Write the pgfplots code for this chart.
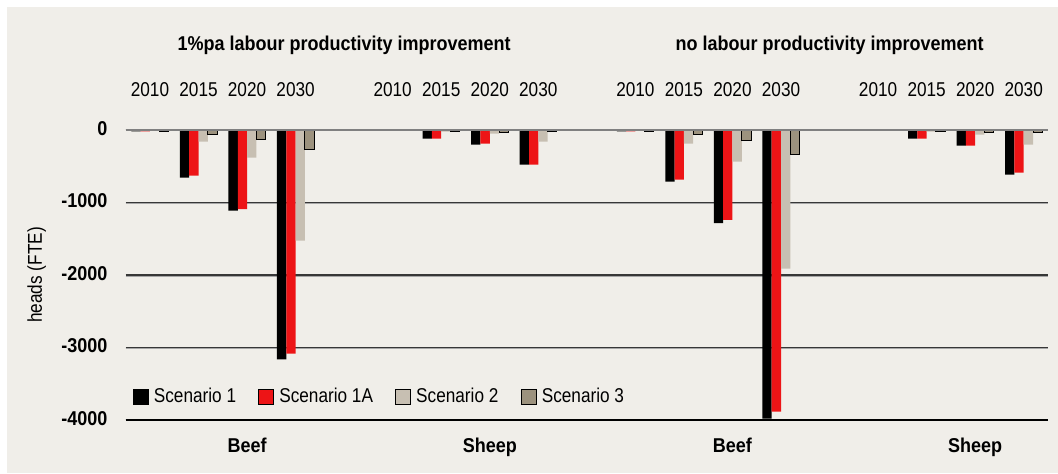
\documentclass[border=0pt]{standalone}
\usepackage{pgfplots}
\pgfplotsset{compat=1.18}
\usepackage{fontspec}
\setmainfont{Liberation Sans}[FakeStretch=0.86, BoldFeatures={FakeStretch=0.9}]
\newcommand\f{\fontsize{10}{12}\selectfont}
\definecolor{bg}{RGB}{240,238,233}
\definecolor{sred}{RGB}{237,20,22}
\definecolor{sgrey}{RGB}{199,191,178}
\definecolor{sdark}{RGB}{156,146,126}
\definecolor{gridc}{RGB}{55,55,55}
\pgfplotsset{sq/.style={legend image code/.code={\draw[##1] (0pt,-3.75pt) rectangle (7.5pt,3.75pt);}}}
\begin{document}
\f
\begin{tikzpicture}[font=\f]
\fill[white] (-62.85pt,-26.5pt) rectangle (466.15pt,210pt);
\fill[bg] (-59.35pt,-26.5pt) rectangle (466.15pt,206.5pt);
\begin{axis}[
  at={(0,0)}, anchor=south west, scale only axis,
  width=461.15pt, height=145pt,
  xmin=-0.5, xmax=18.5, ymin=-4000, ymax=0,
  ybar=0pt, bar width=4.65pt,
  axis line style={draw=none},
  major tick length=0pt,
  xtick={0,1,2,3,5,6,7,8,10,11,12,13,15,16,17,18},
  xticklabels={2010,2015,2020,2030,2010,2015,2020,2030,2010,2015,2020,2030,2010,2015,2020,2030},
  xticklabel pos=upper,
  xticklabel style={font=\f, anchor=base, inner sep=0pt, yshift=16.65pt},
  ytick={-4000,-3000,-2000,-1000,0},
  yticklabels={-4000,-3000,-2000,-1000,0},
  yticklabel style={font=\f\bfseries, anchor=east, inner sep=0pt, xshift=-9pt, yshift=0.8pt},
  ymajorgrids,
  grid style={draw=gridc, line width=0.6pt},
  extra y ticks={-3000,-2000,-1000},
  extra y tick labels={},
  extra y tick style={grid style={draw=black!35, line width=0.5pt, yshift=-0.7pt}},
  legend columns=4,
  legend cell align=left,
  legend style={font=\f, at={(rel axis cs:0,0.081)}, anchor=west, xshift=3.4pt,
    draw=none, fill=none, inner sep=0pt,
    nodes={inner xsep=2.6pt, inner ysep=0pt},
    /tikz/every even column/.append style={column sep=8.5pt}},
  clip=false,
]
\addplot[fill=black, draw=none, sq] coordinates {(0,-20)(1,-657)(2,-1113)(3,-3165)(6,-120)(7,-202)(8,-478)(10,-18)(11,-713)(12,-1283)(13,-3980)(16,-120)(17,-216)(18,-616)};
\addplot[fill=sred, draw=none, sq] coordinates {(0,-20)(1,-630)(2,-1090)(3,-3085)(6,-120)(7,-189)(8,-478)(10,-18)(11,-685)(12,-1240)(13,-3885)(16,-120)(17,-216)(18,-589)};
\addplot[fill=sgrey, draw=none, sq] coordinates {(0,-5)(1,-161)(2,-382)(3,-1527)(6,-23)(7,-51)(8,-161)(10,-5)(11,-189)(12,-437)(13,-1912)(16,-23)(17,-64)(18,-202)};
\addplot[fill=sdark, draw=black, line width=0.5pt, sq] coordinates {(0,-15)(1,-65)(2,-124)(3,-262)(6,-18)(7,-35)(8,-20)(10,-18)(11,-64)(12,-143)(13,-340)(16,-18)(17,-30)(18,-30)};
\legend{Scenario 1,Scenario 1A,Scenario 2,Scenario 3}
\draw[black, line width=0.6pt] (rel axis cs:0,0) -- (rel axis cs:1,0);
\draw[gray, line width=0.6pt] (rel axis cs:0,1) -- (rel axis cs:1,1);
\node[font=\f\bfseries, anchor=base, yshift=39.65pt] at (axis cs:4,0) {1\%pa labour productivity improvement};
\node[font=\f\bfseries, anchor=base, yshift=39.65pt] at (axis cs:14,0) {no labour productivity improvement};
\node[font=\f\bfseries, anchor=base, yshift=-16pt] at (axis cs:2,-4000) {Beef};
\node[font=\f\bfseries, anchor=base, yshift=-16pt] at (axis cs:7,-4000) {Sheep};
\node[font=\f\bfseries, anchor=base, yshift=-16pt] at (axis cs:12,-4000) {Beef};
\node[font=\f\bfseries, anchor=base, yshift=-16pt] at (axis cs:17,-4000) {Sheep};
\node[font=\f, xshift=-44.5pt, rotate=90, anchor=center] at (rel axis cs:0,0.5) {heads (FTE)};
\end{axis}
\pgfresetboundingbox
\useasboundingbox (-62.85pt,-26.5pt) rectangle (466.15pt,210pt);
\end{tikzpicture}
\end{document}
